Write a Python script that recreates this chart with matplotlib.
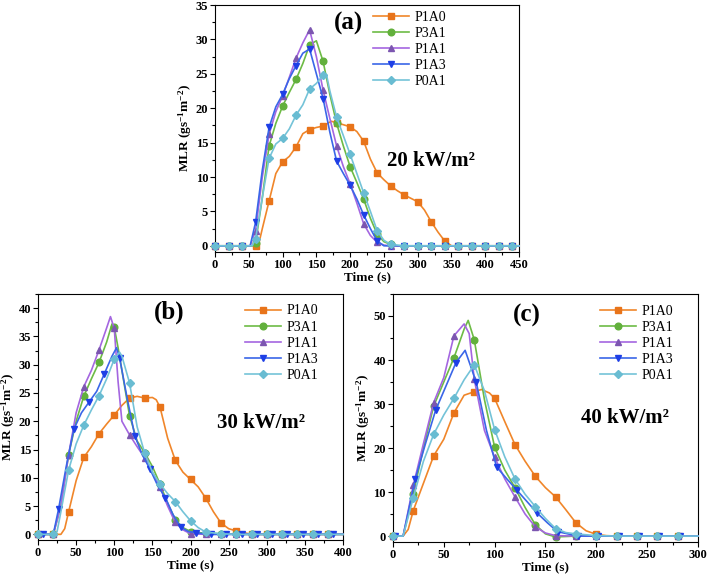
"""
MLR curves under three heat fluxes
"""
import matplotlib
matplotlib.use('Agg')
import matplotlib.pyplot as plt
from matplotlib.ticker import MultipleLocator

plt.rcParams['font.family'] = ['Liberation Serif', 'DejaVu Serif']
plt.rcParams['mathtext.fontset'] = 'custom'
plt.rcParams['mathtext.bf'] = 'Liberation Serif:bold'
plt.rcParams['mathtext.rm'] = 'Liberation Serif:bold'
plt.rcParams['mathtext.default'] = 'bf'

SERIES = ['P1A0', 'P3A1', 'P1A1', 'P1A3', 'P0A1']

# ---------------- (a) 20 kW/m2 ----------------
a_p1a0_t = [0, 20, 40, 60, 65, 70, 80, 90, 100, 110, 120, 130, 140, 150, 160, 172, 180, 190, 200,
            210, 220, 230, 240, 250, 260, 270, 280, 290, 300, 310, 320, 330, 340, 350, 360, 380,
            400, 420, 440, 450]
a_p1a0_v = [0, 0, 0, 0, 0.4, 2.5, 6.5, 10.5, 12.2, 13.0, 14.4, 16.3, 16.9, 17.2, 17.4, 18.1, 17.9,
            17.6, 17.3, 16.6, 15.2, 12.6, 10.6, 9.6, 8.7, 8.0, 7.4, 6.9, 6.4, 5.2, 3.5, 2.0, 0.7, 0,
            0, 0, 0, 0, 0, 0]
a_p3a1_t = [0, 20, 40, 55, 60, 70, 80, 90, 100, 110, 120, 130, 140, 150, 160, 170, 180, 190, 200,
            210, 220, 230, 240, 250, 260, 270, 280, 300, 320, 340, 360, 380, 400, 420, 440, 450]
a_p3a1_v = [0, 0, 0, 0, 0.4, 7.0, 14.5, 17.8, 20.3, 22.3, 24.2, 26.5, 29.2, 29.8, 26.8, 22.0, 17.8,
            14.5, 11.5, 9.2, 6.8, 4.0, 1.7, 0.6, 0.2, 0, 0, 0, 0, 0, 0, 0, 0, 0, 0, 0]
a_p1a1_t = [0, 20, 40, 52, 60, 70, 80, 90, 100, 110, 120, 130, 140, 150, 160, 170, 180, 190, 200,
            210, 220, 230, 240, 250, 260, 280, 300, 320, 340, 360, 380, 400, 420, 440, 450]
a_p1a1_v = [0, 0, 0, 0, 2.2, 10.0, 16.2, 19.5, 21.8, 24.5, 27.3, 29.5, 31.4, 27.5, 22.6, 18.5, 14.5,
            11.5, 9.0, 6.2, 3.2, 1.5, 0.5, 0.1, 0, 0, 0, 0, 0, 0, 0, 0, 0, 0, 0]
a_p1a3_t = [0, 20, 40, 52, 60, 70, 80, 90, 100, 110, 120, 130, 140, 150, 160, 170, 180, 190, 200,
            210, 220, 230, 240, 250, 260, 280, 300, 320, 340, 360, 380, 400, 420, 440, 450]
a_p1a3_v = [0, 0, 0, 0, 3.4, 11.0, 17.2, 20.2, 22.0, 24.3, 26.2, 28.0, 28.6, 25.0, 21.4, 16.5, 12.3,
            10.5, 8.8, 6.8, 4.5, 2.5, 0.7, 0, 0, 0, 0, 0, 0, 0, 0, 0, 0, 0, 0]
a_p0a1_t = [0, 20, 40, 55, 60, 70, 80, 90, 100, 110, 120, 130, 140, 150, 160, 165, 170, 180, 190,
            200, 210, 220, 230, 240, 250, 260, 280, 300, 320, 340, 360, 380, 400, 420, 440, 450]
a_p0a1_v = [0, 0, 0, 0, 1.0, 7.0, 12.7, 14.8, 15.6, 17.0, 19.0, 20.5, 22.8, 23.6, 24.8, 24.9, 22.5,
            18.7, 16.0, 13.3, 10.5, 7.7, 5.0, 2.2, 0.8, 0.2, 0, 0, 0, 0, 0, 0, 0, 0, 0, 0]

# ---------------- (b) 30 kW/m2 ----------------
b_p1a0_t = [0, 20, 30, 35, 40, 50, 60, 70, 80, 90, 100, 110, 120, 130, 140, 150, 155, 160, 170,
            180, 190, 200, 210, 220, 230, 240, 250, 260, 270, 280, 300, 320, 340, 360, 380, 400]
b_p1a0_v = [0, 0, 0, 1.0, 3.9, 9.5, 13.6, 15.5, 17.8, 19.5, 21.1, 22.8, 24.1, 24.4, 24.1, 24.2,
            23.8, 22.5, 17.0, 13.1, 11.0, 9.7, 8.4, 6.4, 4.0, 2.0, 1.0, 0.6, 0.3, 0, 0, 0, 0, 0,
            0, 0]
b_p3a1_t = [0, 15, 20, 30, 40, 50, 60, 70, 80, 90, 97, 100, 105, 110, 120, 130, 140, 150, 160,
            170, 180, 190, 200, 210, 220, 240, 260, 280, 300, 320, 340, 360, 380, 400]
b_p3a1_v = [0, 0, 0, 5.0, 14.0, 20.0, 24.4, 27.5, 30.4, 34.0, 37.2, 36.6, 33.0, 29.0, 21.0, 16.5,
            14.4, 12.0, 8.9, 5.5, 2.6, 1.2, 0.5, 0.3, 0.2, 0.1, 0, 0, 0, 0, 0, 0, 0, 0]
b_p1a1_t = [0, 15, 20, 30, 40, 50, 60, 70, 80, 90, 95, 100, 105, 110, 120, 130, 140, 150, 160,
            170, 180, 190, 200, 220, 240, 260, 280, 300, 320, 340, 360, 380, 400]
b_p1a1_v = [0, 0, 0, 5.0, 14.0, 21.5, 26.1, 29.0, 32.6, 36.5, 38.5, 36.4, 27.0, 20.0, 17.6, 15.5,
            13.5, 11.0, 8.3, 5.0, 2.1, 0.8, 0.1, 0, 0, 0, 0, 0, 0, 0, 0, 0, 0]
b_p1a3_t = [0, 7, 20, 27, 37, 47, 57, 67, 77, 87, 97, 103, 107, 117, 127, 137, 147, 157, 167, 177,
            187, 197, 207, 217, 227, 247, 267, 287, 307, 327, 347, 367, 387, 400]
b_p1a3_v = [0, 0, 0, 4.5, 12.0, 18.6, 21.5, 23.4, 25.3, 28.4, 31.5, 33.0, 31.2, 24.0, 17.4, 14.0,
            11.5, 8.6, 6.5, 3.5, 1.3, 0.5, 0.3, 0.1, 0, 0, 0, 0, 0, 0, 0, 0, 0, 0]
b_p0a1_t = [0, 20, 25, 30, 40, 50, 60, 70, 80, 90, 100, 107, 110, 120, 130, 140, 150, 160, 170,
            180, 190, 200, 210, 220, 240, 260, 280, 300, 320, 340, 360, 380, 400]
b_p0a1_v = [0, 0, 0.5, 4.0, 11.3, 16.0, 19.3, 22.0, 24.5, 27.5, 31.0, 32.2, 31.5, 26.8, 19.0,
            14.3, 11.0, 8.9, 7.2, 5.8, 4.0, 2.4, 1.2, 0.4, 0.1, 0, 0, 0, 0, 0, 0, 0, 0]

# ---------------- (c) 40 kW/m2 ----------------
c_p1a0_t = [0, 10, 15, 20, 30, 40, 50, 60, 70, 80, 87, 95, 100, 110, 120, 130, 140, 150, 160, 170,
            180, 190, 200, 210, 220, 240, 260, 280, 300]
c_p1a0_v = [0, 0, 1.5, 5.8, 12.0, 18.2, 22.0, 28.0, 32.0, 32.8, 33.3, 32.5, 31.3, 26.0, 20.8, 17.0,
            13.6, 11.0, 8.9, 6.0, 3.0, 1.2, 0.4, 0.1, 0, 0, 0, 0, 0]
c_p3a1_t = [0, 10, 20, 30, 40, 50, 60, 70, 74, 80, 90, 100, 110, 120, 130, 140, 150, 160, 180, 200,
            220, 240, 260, 280, 300]
c_p3a1_v = [0, 0, 9.6, 20.0, 29.5, 35.0, 40.5, 47.0, 49.0, 44.6, 31.0, 20.2, 15.0, 11.0, 6.5, 2.6,
            0.5, -0.2, 0, 0, 0, 0, 0, 0, 0]
c_p1a1_t = [0, 10, 20, 30, 40, 50, 60, 70, 75, 80, 90, 100, 110, 120, 130, 140, 150, 160, 180, 200,
            220, 240, 260, 280, 300]
c_p1a1_v = [0, 0, 11.5, 21.0, 30.3, 36.0, 45.5, 48.2, 46.0, 35.6, 24.0, 17.9, 13.0, 8.9, 5.0, 2.1,
            0.7, 0.1, 0, 0, 0, 0, 0, 0, 0]
c_p1a3_t = [0, 2, 10, 22, 32, 42, 52, 62, 71, 82, 92, 102, 112, 122, 132, 142, 152, 162, 182, 202,
            222, 242, 262, 282, 300]
c_p1a3_v = [0, 0, 0, 13.0, 21.0, 28.6, 34.0, 39.4, 42.2, 34.9, 24.0, 15.7, 13.0, 10.4, 7.8, 5.2,
            3.0, 1.0, 0, 0, 0, 0, 0, 0, 0]
c_p0a1_t = [0, 10, 20, 30, 40, 50, 60, 70, 80, 90, 100, 110, 120, 130, 140, 150, 160, 170, 180,
            200, 220, 240, 260, 280, 300]
c_p0a1_v = [0, 0, 8.7, 17.0, 23.1, 27.5, 31.3, 35.5, 38.9, 33.0, 24.2, 18.0, 13.0, 9.5, 6.7, 4.0,
            1.7, 0.8, 0.5, 0.1, 0, 0, 0, 0, 0]

STYLES = {
    'P1A0': dict(color='#f0862a', marker='s', mfc='#e8741a', mec='#e8741a'),
    'P3A1': dict(color='#6dbb45', marker='o', mfc='#62b03c', mec='#62b03c'),
    'P1A1': dict(color='#a466e0', marker='^', mfc='#7c56b0', mec='#7c56b0'),
    'P1A3': dict(color='#3a66e8', marker='v', mfc='#1e3fe6', mec='#1e3fe6'),
    'P0A1': dict(color='#74c3d8', marker='D', mfc='#69bcd2', mec='#69bcd2'),
}
MS = {'s': 4.4, 'o': 4.8, '^': 4.8, 'v': 4.8, 'D': 4.0}


def draw_panel(ax, curves, offsets, xmax, xstep, ylim, ystep, tag, flux, tag_pos, flux_pos,
               legend_anchor):
    """Draw one MLR panel"""
    for name, (t, v) in zip(SERIES, curves):
        style = STYLES[name]
        every = [i for i, ti in enumerate(t)
                 if (ti - offsets[name]) % 20 == 0 and ti < xmax]
        ax.plot(t, v, color=style['color'], lw=1.2, marker=style['marker'],
                ms=MS[style['marker']], mfc=style['mfc'], mec=style['mec'],
                markevery=every, label=name, clip_on=False, zorder=3)
    ax.set_xlim(0, xmax)
    ax.set_ylim(*ylim)
    ax.xaxis.set_major_locator(MultipleLocator(xstep))
    ax.xaxis.set_minor_locator(MultipleLocator(xstep / 2))
    ax.yaxis.set_major_locator(MultipleLocator(ystep))
    ax.yaxis.set_minor_locator(MultipleLocator(ystep / 2))
    ax.tick_params(which='both', direction='out', top=False, right=False, labelsize=9,
                   width=0.8, pad=1.5)
    ax.tick_params(which='major', length=3.5)
    ax.tick_params(which='minor', length=2)
    for lab in ax.get_xticklabels() + ax.get_yticklabels():
        lab.set_fontweight('bold')
    for sp in ax.spines.values():
        sp.set_linewidth(0.8)
    ax.set_xlabel('Time (s)', fontsize=9.5, fontweight='bold', labelpad=0)
    ax.set_ylabel('MLR (gs$^{-1}$m$^{-2}$)', fontsize=9.5, fontweight='bold', labelpad=1)
    ax.text(*tag_pos, tag, transform=ax.transAxes, fontsize=18, fontweight='bold',
            ha='center', va='center')
    ax.text(*flux_pos, flux, transform=ax.transAxes, fontsize=15, fontweight='bold',
            ha='center', va='center')
    ax.legend(loc='upper left', bbox_to_anchor=legend_anchor, frameon=False, fontsize=10,
              handlelength=2.6, handletextpad=0.4, labelspacing=0.22, borderaxespad=0)


fig = plt.figure(figsize=(7.08, 5.76), dpi=100)
ax_a = fig.add_axes([0.3037, 0.5625, 0.4294, 0.4288])
ax_b = fig.add_axes([0.0537, 0.0625, 0.4308, 0.4271])
ax_c = fig.add_axes([0.5550, 0.0590, 0.4308, 0.4306])

zero_off = {n: 0 for n in SERIES}

draw_panel(ax_a,
           [(a_p1a0_t, a_p1a0_v), (a_p3a1_t, a_p3a1_v), (a_p1a1_t, a_p1a1_v),
            (a_p1a3_t, a_p1a3_v), (a_p0a1_t, a_p0a1_v)],
           zero_off, 450, 50, (-0.9, 35), 5, '(a)', '20 kW/m²',
           (0.44, 0.925), (0.71, 0.37), (0.50, 1.0))

draw_panel(ax_b,
           [(b_p1a0_t, b_p1a0_v), (b_p3a1_t, b_p3a1_v), (b_p1a1_t, b_p1a1_v),
            (b_p1a3_t, b_p1a3_v), (b_p0a1_t, b_p0a1_v)],
           dict(zero_off, P1A3=7), 400, 50, (-1.0, 42.5), 5, '(b)', '30 kW/m²',
           (0.43, 0.925), (0.73, 0.475), (0.66, 0.98))

draw_panel(ax_c,
           [(c_p1a0_t, c_p1a0_v), (c_p3a1_t, c_p3a1_v), (c_p1a1_t, c_p1a1_v),
            (c_p1a3_t, c_p1a3_v), (c_p0a1_t, c_p0a1_v)],
           dict(zero_off, P1A3=2), 300, 50, (-1.35, 55), 10, '(c)', '40 kW/m²',
           (0.44, 0.915), (0.76, 0.50), (0.66, 0.98))

fig.savefig('out.png', dpi=100)
